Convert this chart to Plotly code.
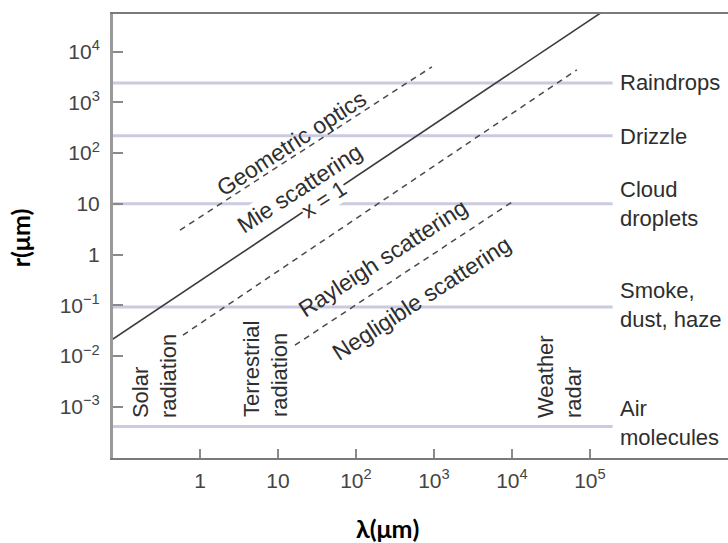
import numpy as np
import plotly.graph_objects as go

# Particle-size bands: name and typical radius r (µm)
band_names = ["Raindrops", "Drizzle", "Cloud<br>droplets", "Smoke,<br>dust, haze", "Air<br>molecules"]
band_radius = [2400, 220, 10, 0.092, 4.1e-4]
band_lambda = [0.05, 1.95e5]          # wavelength span of each band line (µm)

# Size-parameter boundaries: (wavelength µm, radius µm) endpoints
x1_lambda = [0.05, 2.0e5]             # x = 1 (solid)
x1_radius = [0.0139, 8.5e4]
geo_lambda = [0.555, 942]             # geometric optics / Mie boundary
geo_radius = [3.04, 5000]
ray_lambda = [0.605, 68000]           # Mie / Rayleigh boundary
ray_radius = [0.0258, 4365]
neg_lambda = [16.5, 11000]            # Rayleigh / negligible boundary
neg_radius = [0.0164, 11.9]

# Axis ticks
x_tickvals = [1, 10, 1e2, 1e3, 1e4, 1e5]
x_ticktext = ["1", "10", "10<sup>2</sup>", "10<sup>3</sup>", "10<sup>4</sup>", "10<sup>5</sup>"]
y_tickvals = [1e-3, 1e-2, 1e-1, 1, 10, 1e2, 1e3, 1e4]
y_ticktext = ["10<sup>\u22123</sup>", "10<sup>\u22122</sup>", "10<sup>\u22121</sup>", "1", "10",
              "10<sup>2</sup>", "10<sup>3</sup>", "10<sup>4</sup>"]

FONT = "Liberation Sans, Arial, sans-serif"
TXT = "#2e2e2e"

fig = go.Figure()

for r in band_radius:
    fig.add_trace(go.Scatter(x=band_lambda, y=[r, r], mode="lines",
                             line=dict(color="#cacae0", width=3),
                             hoverinfo="skip", showlegend=False))

fig.add_trace(go.Scatter(x=x1_lambda, y=x1_radius, mode="lines",
                         line=dict(color="#3c3c3c", width=1.6),
                         hoverinfo="skip", showlegend=False))
for lx, ly in [(geo_lambda, geo_radius), (ray_lambda, ray_radius), (neg_lambda, neg_radius)]:
    fig.add_trace(go.Scatter(x=lx, y=ly, mode="lines",
                             line=dict(color="#4a4a4a", width=1.5, dash="6px,5px"),
                             hoverinfo="skip", showlegend=False))

ann = []
# band labels on the right
band_label_y = [3.383, 2.318, 0.996, -0.996, -3.314]
for name, yy in zip(band_names, band_label_y):
    ann.append(dict(x=5.359, y=yy, xref="x", yref="y", text=name, showarrow=False,
                    xanchor="left", yanchor="middle", align="left",
                    font=dict(family=FONT, size=22, color=TXT)))

# regime labels along the diagonals (bg = white where the label knocks out the lines beneath)
diag = [("Geometric optics", 1.179, 2.199, None), ("Mie scattering", 1.282, 1.312, "white"),
        ("Rayleigh scattering", 2.346, -0.069, None), ("Negligible scattering", 2.846, -0.858, None)]
for t, xx, yy, bg in diag:
    ann.append(dict(x=xx, y=yy, xref="x", yref="y", text=t, showarrow=False,
                    textangle=-33, xanchor="center", yanchor="middle",
                    bgcolor=bg or "rgba(0,0,0,0)", borderpad=0,
                    font=dict(family=FONT, size=23, color=TXT)))
# the x = 1 label interrupts the solid line
ann.append(dict(x=1.59, y=1.075, xref="x", yref="y", text="x = 1", showarrow=False,
                textangle=-33, xanchor="center", yanchor="middle", bgcolor="white",
                borderpad=0, font=dict(family=FONT, size=22, color=TXT)))

# radiation source labels
vert = [("Solar<br>radiation", -0.577, -2.397), ("Terrestrial<br>radiation", 0.846, -2.239),
        ("Weather<br>radar", 4.615, -2.397)]
for t, xx, yy in vert:
    ann.append(dict(x=xx, y=yy, xref="x", yref="y", text=t, showarrow=False,
                    textangle=-90, xanchor="center", yanchor="middle", align="left",
                    font=dict(family=FONT, size=22, color=TXT)))

# axis titles
TITLE_FONT = dict(family="Lato, Open Sans, sans-serif", size=25, color="#000")
ann.append(dict(x=-0.151, y=0.495, xref="paper", yref="paper", text="<b>r(\u03bcm)</b>",
                showarrow=False, textangle=-90, xanchor="center", yanchor="middle",
                font=TITLE_FONT))
ann.append(dict(x=0.447, y=-0.158, xref="paper", yref="paper", text="<b>\u03bb(\u03bcm)</b>",
                showarrow=False, xanchor="center", yanchor="middle", font=TITLE_FONT))

fig.update_layout(
    width=728, height=543,
    margin=dict(l=113, r=0, t=14, b=85),
    paper_bgcolor="white", plot_bgcolor="white",
    annotations=ann,
    xaxis=dict(type="log", range=[-1.115, 6.77], tickvals=x_tickvals, ticktext=x_ticktext,
               showgrid=False, zeroline=False, showline=True, linecolor="#7a7a7a", linewidth=2,
               mirror=True, ticks="inside", ticklen=9, tickwidth=2, tickcolor="#8a8a8a",
               tickfont=dict(family=FONT, size=21, color="#444"), ticklabelstandoff=3),
    yaxis=dict(type="log", range=[-4.01, 4.74], tickvals=y_tickvals, ticktext=y_ticktext,
               showgrid=False, zeroline=False, showline=True, linecolor="#9a9a9a", linewidth=3,
               ticks="inside", ticklen=10, tickwidth=2, tickcolor="#8a8a8a",
               tickfont=dict(family=FONT, size=21, color="#444"), ticklabelstandoff=6),
)

fig.write_html("out.html")
